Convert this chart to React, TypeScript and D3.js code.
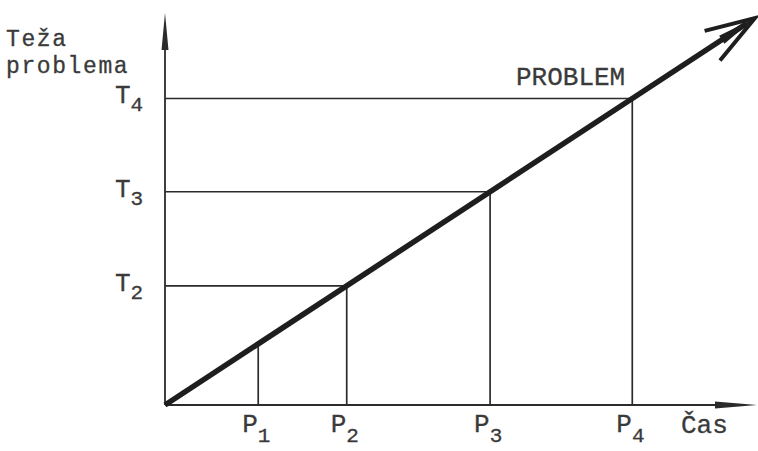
import React, { useEffect, useRef } from "react";
import * as d3 from "d3";

// time points on the x axis and the matching problem weight on the y axis
const timeLabels = ["1", "2", "3", "4"];
const timeValues = [15.8, 30.8, 55.1, 79.2];
const weightLabels = ["2", "3", "4"];
const weightValues = [30.8, 55.1, 79.2];
const problemLine = [
  [0, 0],
  [100, 100],
];

const W = 758;
const H = 451;
const ink = "#2b2b2b";
const font = "'Liberation Mono', 'DejaVu Sans Mono', monospace";

const App = () => {
  const ref = useRef<SVGSVGElement>(null);

  useEffect(() => {
    const svg = d3.select(ref.current);
    svg.selectAll("*").remove();

    const x = d3.scaleLinear().domain([0, 100]).range([165, 755]);
    const y = d3.scaleLinear().domain([0, 100]).range([405, 18]);

    // axes
    svg
      .append("line")
      .attr("x1", x(0))
      .attr("y1", y(0))
      .attr("x2", x(0))
      .attr("y2", 40)
      .attr("stroke", ink)
      .attr("stroke-width", 1.8);
    svg
      .append("path")
      .attr("d", `M${x(0)},13 L${x(0) - 3.5},50 L${x(0) + 3.5},50 Z`)
      .attr("fill", ink);

    svg
      .append("line")
      .attr("x1", x(0))
      .attr("y1", y(0))
      .attr("x2", 730)
      .attr("y2", y(0))
      .attr("stroke", ink)
      .attr("stroke-width", 1.8);
    svg
      .append("path")
      .attr("d", `M757,${y(0)} L715,${y(0) - 3.5} L715,${y(0) + 3.5} Z`)
      .attr("fill", ink);

    // guide lines
    svg
      .selectAll(".vguide")
      .data(timeValues)
      .enter()
      .append("line")
      .attr("x1", (d) => x(d))
      .attr("x2", (d) => x(d))
      .attr("y1", y(0))
      .attr("y2", (d) => y(d))
      .attr("stroke", ink)
      .attr("stroke-width", 1.7);

    svg
      .selectAll(".hguide")
      .data(weightValues)
      .enter()
      .append("line")
      .attr("x1", x(0))
      .attr("x2", (d) => x(d))
      .attr("y1", (d) => y(d))
      .attr("y2", (d) => y(d))
      .attr("stroke", ink)
      .attr("stroke-width", 1.7);

    // the problem line
    const line = d3
      .line<number[]>()
      .x((d) => x(d[0]))
      .y((d) => y(d[1]));
    const [p0, p1] = problemLine;
    const tx = x(p1[0]);
    const ty = y(p1[1]);
    const ang = Math.atan2(ty - y(p0[1]), tx - x(p0[0]));
    const shortEnd = [
      x.invert(tx - 10 * Math.cos(ang)),
      y.invert(ty - 10 * Math.sin(ang)),
    ];
    svg
      .append("path")
      .attr("d", line([p0, shortEnd]))
      .attr("stroke", "#1e1e1e")
      .attr("stroke-width", 5.5)
      .attr("fill", "none");

    const barb = (da: number, len: number) =>
      `${tx - len * Math.cos(ang + da)},${ty - len * Math.sin(ang + da)}`;
    svg
      .append("path")
      .attr("d", `M${barb(-0.3, 55)} L${tx},${ty} L${barb(0.33, 52)}`)
      .attr("stroke", "#1e1e1e")
      .attr("stroke-width", 4)
      .attr("stroke-linejoin", "miter")
      .attr("fill", "none");
    svg
      .append("path")
      .attr("d", `M${tx},${ty} L${barb(-0.12, 40)} L${barb(0.12, 40)} Z`)
      .attr("fill", "#1e1e1e");

    // labels
    const text = (
      sx: number,
      sy: number,
      main: string,
      sub?: string,
      dy = 9,
      size = 26,
      spacing = 0
    ) => {
      const t = svg
        .append("text")
        .attr("x", sx)
        .attr("y", sy)
        .attr("font-family", font)
        .attr("font-size", size)
        .attr("letter-spacing", spacing)
        .attr("fill", "#3a3a3a")
        .attr("stroke", "#3a3a3a")
        .attr("stroke-width", 0.3);
      t.append("tspan").text(main);
      if (sub) t.append("tspan").attr("dy", dy).attr("font-size", 21).text(sub);
    };

    timeValues.forEach((d, i) => text(x(d) - 16, 432, "P", timeLabels[i], 10));
    weightValues.forEach((d, i) => text(115, y(d) + 5, "T", weightLabels[i], 8));

    text(6, 46, "Teža", undefined, 0, 23, 1.6);
    text(6, 73, "problema", undefined, 0, 23, 1.6);
    text(516, 85, "PROBLEM");
    text(681, 433, "Čas");
  }, []);

  return (
    <svg
      ref={ref}
      width={W}
      height={H}
      style={{ position: "absolute", left: 0, top: 0, background: "#fff" }}
    ></svg>
  );
};

export default App;
